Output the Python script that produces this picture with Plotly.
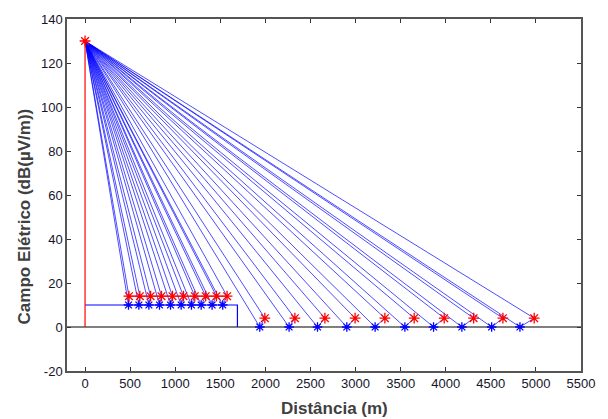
import plotly.graph_objects as go

# Data
tx_x, tx_y = 0, 130
short_rx_x = [487, 608, 727, 848, 970, 1092, 1217, 1338, 1457, 1575]
short_rx_y = 14
short_refl_x = [482, 597, 708, 826, 948, 1066, 1180, 1288, 1409, 1527]
short_refl_y = 10
long_rx_x = [1994, 2327, 2660, 2995, 3325, 3650, 3983, 4309, 4634, 4981]
long_rx_y = 4
long_refl_x = [1938, 2263, 2578, 2903, 3217, 3547, 3865, 4179, 4509, 4823]
long_refl_y = 0
roof_x = [0, 1690, 1690]
roof_y = [10, 10, 0]
ground_x = [-200, 5500]
ground_y = [0, 0]

xticks = list(range(0, 5501, 500))
yticks = list(range(-20, 141, 20))

BLUE = "#0000ff"
RED = "#ff0000"

# Ray paths
rx, ry = [], []
for rxs, rys, rfx, rfy in [(short_rx_x, short_rx_y, short_refl_x, short_refl_y),
                           (long_rx_x, long_rx_y, long_refl_x, long_refl_y)]:
    for a, b in zip(rxs, rfx):
        rx += [tx_x, a, None, tx_x, b, a, None]
        ry += [tx_y, rys, None, tx_y, rfy, rys, None]

fig = go.Figure()
fig.add_trace(go.Scatter(x=ground_x, y=ground_y, mode="lines",
                         line=dict(color="black", width=1.2), hoverinfo="skip"))
fig.add_trace(go.Scatter(x=roof_x, y=roof_y, mode="lines",
                         line=dict(color=BLUE, width=1.2), hoverinfo="skip"))
fig.add_trace(go.Scatter(x=rx, y=ry, mode="lines",
                         line=dict(color=BLUE, width=0.7), hoverinfo="skip"))
fig.add_trace(go.Scatter(x=[tx_x, tx_x], y=[0, tx_y], mode="lines",
                         line=dict(color=RED, width=1.2), hoverinfo="skip"))
fig.add_trace(go.Scatter(x=short_refl_x + long_refl_x,
                         y=[short_refl_y] * len(short_refl_x) + [long_refl_y] * len(long_refl_x),
                         mode="markers",
                         marker=dict(symbol="asterisk-open", size=8, color=BLUE,
                                     line=dict(color=BLUE, width=1.3)), hoverinfo="skip"))
fig.add_trace(go.Scatter(x=short_rx_x, y=[short_rx_y] * len(short_rx_x), mode="lines",
                         line=dict(color=RED, width=1), hoverinfo="skip"))
fig.add_trace(go.Scatter(x=[tx_x] + short_rx_x + long_rx_x,
                         y=[tx_y] + [short_rx_y] * len(short_rx_x) + [long_rx_y] * len(long_rx_x),
                         mode="markers",
                         marker=dict(symbol="asterisk-open", size=9, color=RED,
                                     line=dict(color=RED, width=1.3)), hoverinfo="skip"))

axis_common = dict(showgrid=False, zeroline=False, showline=True, linecolor="#555555",
                   linewidth=1.5, mirror="ticks", ticks="inside", ticklen=4,
                   tickcolor="#333333", tickwidth=1,
                   tickfont=dict(family="Liberation Sans, Arial", size=13, color="#15152a"))

fig.update_xaxes(range=[-200, 5500], tickvals=xticks, ticktext=[str(t) for t in xticks],
                 **axis_common)
fig.update_yaxes(range=[-20, 140], tickvals=yticks, ticktext=[str(t) for t in yticks],
                 **axis_common)

fig.update_layout(
    width=608, height=419,
    margin=dict(l=67, r=27, t=19, b=48),
    plot_bgcolor="white", paper_bgcolor="white",
    showlegend=False,
    annotations=[
        dict(text="<b>Distância (m)</b>", xref="paper", yref="paper", x=0.52, y=-0.073,
             xanchor="center", yanchor="top", showarrow=False,
             font=dict(family="Liberation Sans, Arial", size=17, color="#404040")),
        dict(text="<b>Campo Elétrico (dB(µV/m))</b>", xref="paper", yref="paper",
             x=-0.083, y=0.44, xanchor="center", yanchor="middle", textangle=-90,
             showarrow=False,
             font=dict(family="Liberation Sans, Arial", size=17, color="#404040")),
    ],
)

fig.write_html("out.html")
